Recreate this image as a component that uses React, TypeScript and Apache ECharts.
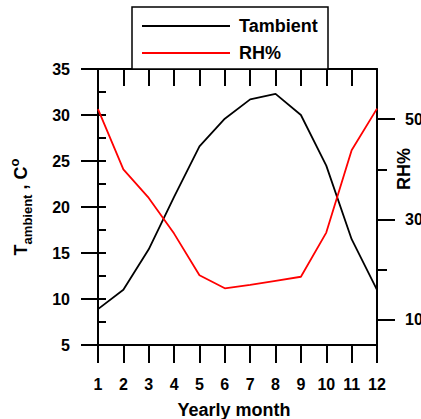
import React, { useEffect, useRef } from "react";
import * as echarts from "echarts";

const months = [1, 2, 3, 4, 5, 6, 7, 8, 9, 10, 11, 12];
const tAmbient = [8.9, 11.0, 15.4, 21.1, 26.6, 29.6, 31.7, 32.3, 30.0, 24.5, 16.5, 11.0];
const rhPercent = [52.0, 40.0, 34.3, 27.2, 18.9, 16.3, 17.0, 17.8, 18.6, 27.4, 43.8, 52.1];
const rightMajorTicks = [10, 30, 50];
const rightMinorTicks = [20, 40];

const FONT = "'Liberation Sans', Arial, sans-serif";

export default function App() {
  const ref = useRef<HTMLDivElement>(null);
  useEffect(() => {
    document.body.style.margin = "0";
    document.body.style.overflow = "hidden";
    if (!ref.current) return;
    const chart = echarts.init(ref.current, null, { renderer: "svg" });
    const axisLine = { show: true, lineStyle: { color: "#000", width: 2 } };
    const labelStyle = { color: "#000", fontFamily: FONT, fontWeight: "bold" as const, fontSize: 16 };
    chart.setOption({
      animation: false,
      backgroundColor: "#fff",
      grid: { left: 98, right: 44, top: 69, bottom: 74, containLabel: false, outerBoundsMode: "none" },
      legend: {
        orient: "vertical",
        left: 141,
        top: 17,
        itemWidth: 88,
        itemHeight: 16,
        itemGap: 9,
        padding: 0,
        z: 10,
        itemStyle: { opacity: 0 },
        textStyle: { color: "#000", fontFamily: FONT, fontWeight: "bold", fontSize: 18, padding: [0, 0, 0, 4] },
        data: ["Tambient", "RH%"],
      },
      xAxis: [
        {
          type: "value",
          position: "bottom",
          min: 1,
          max: 12,
          interval: 1,
          axisLine,
          axisTick: { show: true, inside: false, length: 18, lineStyle: { color: "#000", width: 2 } },
          axisLabel: { ...labelStyle, margin: 31 },
          splitLine: { show: false },
        },
        {
          type: "value",
          position: "top",
          min: 1,
          max: 12,
          interval: 1,
          axisLine,
          axisTick: { show: true, inside: true, length: 17, lineStyle: { color: "#000", width: 2 } },
          axisLabel: { show: false },
          splitLine: { show: false },
        },
      ],
      yAxis: [
        {
          type: "value",
          position: "left",
          min: 5,
          max: 35,
          interval: 5,
          axisLine,
          axisTick: { show: true, inside: false, length: 17, lineStyle: { color: "#000", width: 2 } },
          axisLabel: { ...labelStyle, margin: 28 },
          splitLine: { show: false },
        },
        {
          type: "value",
          position: "left",
          min: 5,
          max: 35,
          interval: 2.5,
          axisLine: { show: false },
          axisTick: { show: true, inside: true, length: 8, lineStyle: { color: "#000", width: 2 } },
          axisLabel: { show: false },
          splitLine: { show: false },
        },
        {
          type: "value",
          position: "right",
          min: 5,
          max: 60,
          interval: 5,
          axisLine,
          axisTick: {
            show: true,
            inside: false,
            length: 18,
            customValues: rightMajorTicks,
            lineStyle: { color: "#000", width: 2 },
          },
          axisLabel: { ...labelStyle, margin: 28, customValues: rightMajorTicks },
          splitLine: { show: false },
        },
        {
          type: "value",
          position: "right",
          min: 5,
          max: 60,
          interval: 5,
          axisLine: { show: false },
          axisTick: {
            show: true,
            inside: false,
            length: 10,
            customValues: rightMinorTicks,
            lineStyle: { color: "#000", width: 2 },
          },
          axisLabel: { show: false },
          splitLine: { show: false },
        },
      ],
      series: [
        {
          name: "Tambient",
          type: "line",
          xAxisIndex: 0,
          yAxisIndex: 0,
          symbol: "none",
          lineStyle: { color: "#000", width: 1.8 },
          itemStyle: { color: "#000" },
          data: months.map((m, i) => [m, tAmbient[i]]),
        },
        {
          name: "RH%",
          type: "line",
          xAxisIndex: 0,
          yAxisIndex: 2,
          symbol: "none",
          lineStyle: { color: "#ff0000", width: 1.8 },
          itemStyle: { color: "#ff0000" },
          data: months.map((m, i) => [m, rhPercent[i]]),
        },
      ],
      graphic: [
        {
          type: "rect",
          z: 1,
          shape: { x: 132, y: 7, width: 196, height: 62 },
          style: { fill: "#fff", stroke: "#000", lineWidth: 1.5 },
        },
        {
          type: "text",
          x: 234,
          y: 410,
          style: {
            text: "Yearly month",
            fill: "#000",
            font: `bold 18px ${FONT}`,
            align: "center",
            verticalAlign: "middle",
          },
        },
        {
          type: "text",
          x: 404,
          y: 169,
          rotation: Math.PI / 2,
          style: {
            text: "RH%",
            fill: "#000",
            font: `bold 18px ${FONT}`,
            align: "center",
            verticalAlign: "middle",
          },
        },
        {
          type: "text",
          x: 21,
          y: 207,
          rotation: Math.PI / 2,
          style: {
            text: "{b|T}{s|ambient}{b| , C}{p|o}",
            fill: "#000",
            align: "center",
            verticalAlign: "middle",
            rich: {
              b: { fontFamily: FONT, fontWeight: "bold", fontSize: 18, lineHeight: 26, fill: "#000" },
              s: { fontFamily: FONT, fontWeight: "bold", fontSize: 13, lineHeight: 14, verticalAlign: "bottom", fill: "#000" },
              p: { fontFamily: FONT, fontWeight: "bold", fontSize: 13, lineHeight: 14, verticalAlign: "top", fill: "#000" },
            },
          },
        },
      ],
    });
    return () => chart.dispose();
  }, []);
  return <div ref={ref} style={{ position: "absolute", left: 0, top: 0, width: 421, height: 419 }} />;
}
